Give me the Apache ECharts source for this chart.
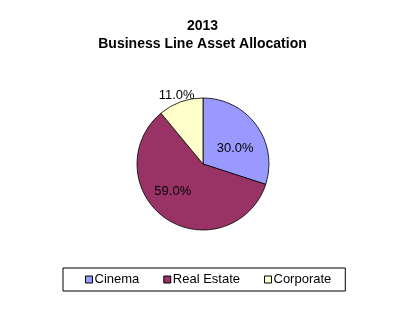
<!DOCTYPE html>
<html><head><meta charset="utf-8">
<script src="https://cdn.jsdelivr.net/npm/echarts@6/dist/echarts.min.js"></script>
<style>html,body{margin:0;padding:0;background:#fff}#c{width:405px;height:321px}</style>
</head><body><div id="c"></div>
<script>
const titleLines = ['2013', 'Business Line Asset Allocation'];
const categories = ['Cinema', 'Real Estate', 'Corporate'];
const values = [30.0, 59.0, 11.0];

const colors = ['#9999FF', '#993366', '#FFFFCC'];
const labelStyle = [
  {position: 'inside', offset: [3, 6]},
  {position: 'inside', offset: [-10, -2]},
  {position: 'outside', offset: [20, -4]}
];

const chart = echarts.init(document.getElementById('c'), null, {renderer: 'canvas'});
chart.setOption({
  backgroundColor: '#fff',
  animation: false,
  title: {
    text: titleLines.join('\n'),
    left: 'center', top: 12,
    textStyle: {fontFamily: 'Liberation Sans, Arial', fontSize: 14, fontWeight: 'bold', color: '#000', lineHeight: 18}
  },
  legend: {
    data: categories,
    left: 63, top: 268, width: 284,
    itemWidth: 7, itemHeight: 7, itemGap: 24,
    icon: 'rect',
    borderColor: '#000', borderWidth: 1,
    padding: [5, 14, 5, 22],
    itemStyle: {borderColor: '#000', borderWidth: 1},
    textStyle: {fontFamily: 'Liberation Sans, Arial', fontSize: 13, color: '#000', padding: [0, 0, 0, -3]}
  },
  series: [{
    type: 'pie',
    center: [203, 164],
    radius: 66,
    startAngle: 90,
    clockwise: true,
    itemStyle: {borderColor: '#000', borderWidth: 0.8},
    label: {
      formatter: p => p.value.toFixed(1) + '%',
      fontFamily: 'Liberation Sans, Arial', fontSize: 13, color: '#000'
    },
    labelLine: {show: false, length: 0, length2: 0},
    emphasis: {disabled: true},
    data: categories.map((c, i) => ({
      name: c, value: values[i],
      itemStyle: {color: colors[i]},
      label: labelStyle[i],
      labelLine: {show: false, length: 3, length2: 0}
    }))
  }]
});
</script></body></html>
